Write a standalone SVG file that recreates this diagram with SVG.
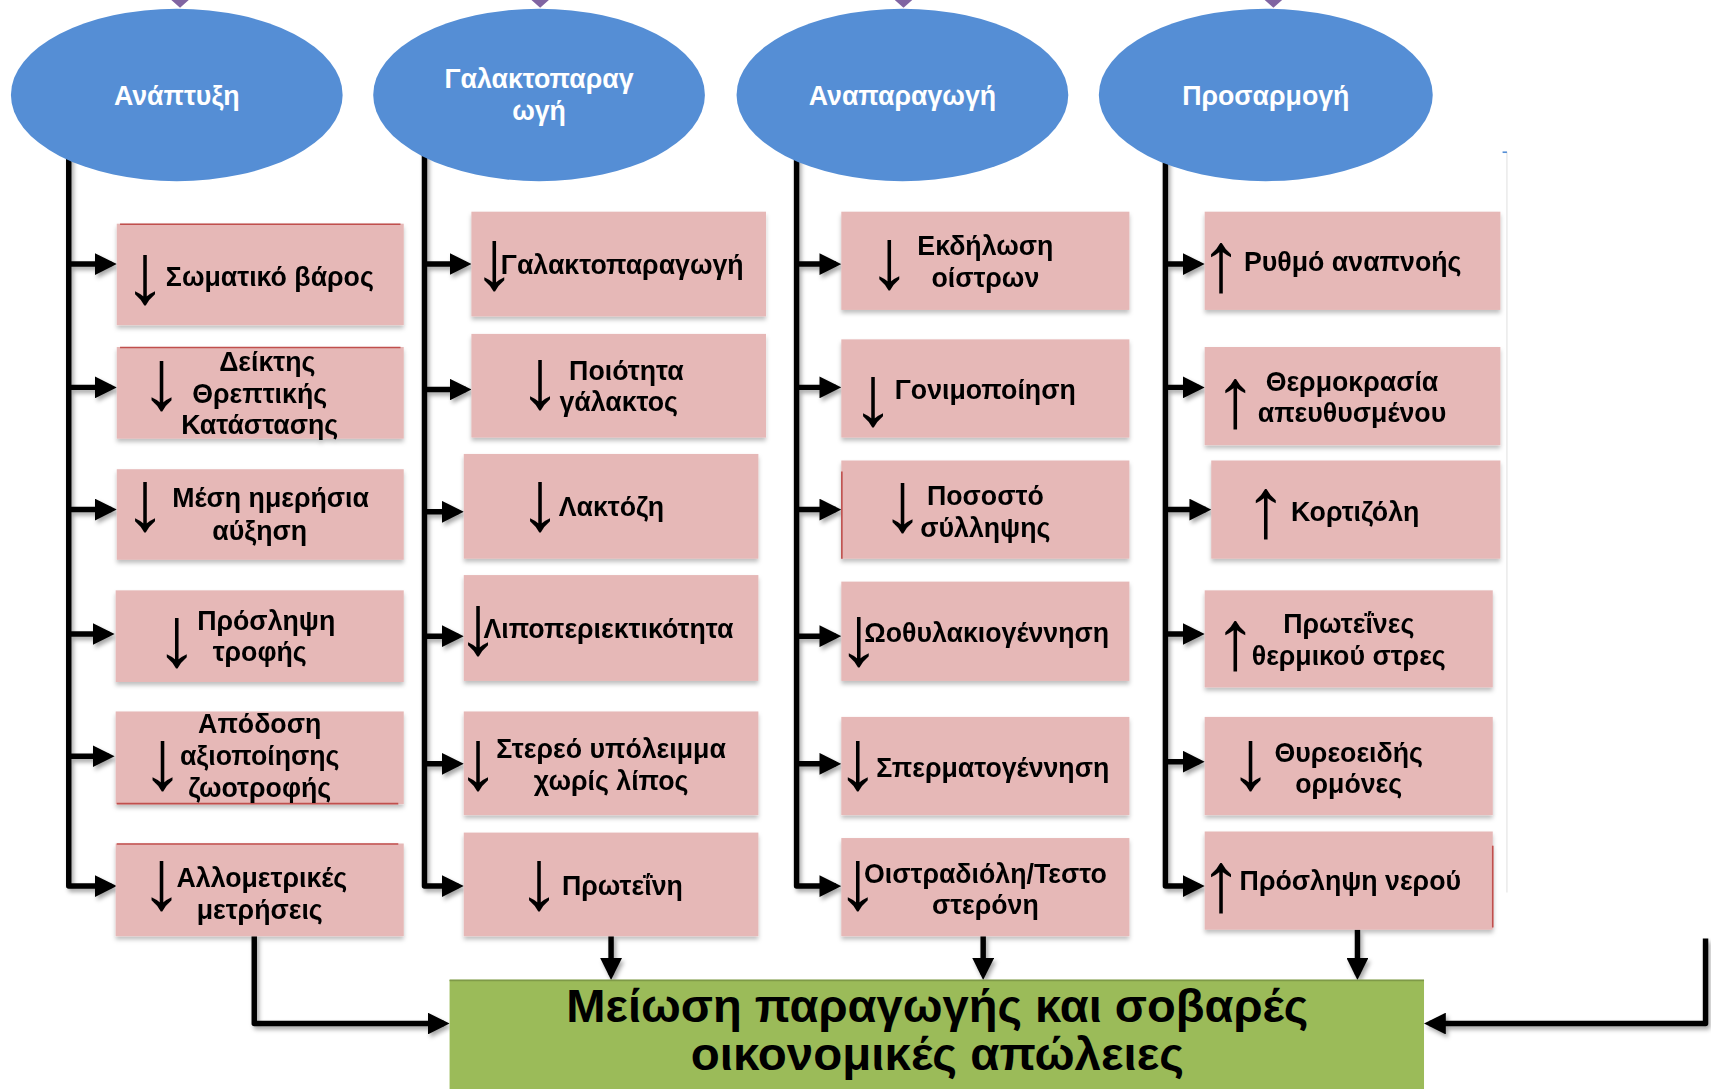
<svg xmlns="http://www.w3.org/2000/svg" width="1711" height="1089" viewBox="0 0 1711 1089">
<defs>
<style>
.ell{fill:#558ed5}
.box{fill:#e6b8b7}
.grn{fill:#9bbb59}
.t{font-family:"Liberation Sans",Arial,sans-serif;font-weight:bold;font-size:24.5px;fill:#000}
.m{text-anchor:middle}
.w{fill:#fff}
.ar{font-family:"Liberation Sans","DejaVu Sans",sans-serif;font-weight:bold;font-size:78px;fill:#000;text-anchor:middle;dominant-baseline:central}
.c{fill:none;stroke:#000;stroke-width:5;stroke-linejoin:round;stroke-linecap:butt}
.red{stroke:#c0504d;stroke-width:1.5;fill:none}
.big{font-family:"Liberation Sans",Arial,sans-serif;font-weight:bold;font-size:42px;fill:#000;text-anchor:middle}
</style>
<filter id="sh" x="-10%" y="-10%" width="120%" height="130%">
<feDropShadow dx="0" dy="3" stdDeviation="2" flood-color="#000" flood-opacity="0.25"/>
</filter>
<filter id="csh" x="-10%" y="-10%" width="120%" height="120%">
<feDropShadow dx="2" dy="3" stdDeviation="2" flood-color="#000" flood-opacity="0.35"/>
</filter>
<marker id="ah" markerUnits="userSpaceOnUse" markerWidth="20" markerHeight="20" viewBox="0 0 20 20" refX="15" refY="10" orient="auto">
<path d="M0,0 L20,10 L0,20 z" fill="#000"/>
</marker>
</defs>
<rect width="1711" height="1089" fill="#fff"/>
<g transform="scale(1.0912)">
<g id="top-arrows" fill="#8064a2">
<polygon points="157,0 173,0 165,7"/>
<polygon points="487,0 503,0 495,7"/>
<polygon points="820,0 836,0 828,7"/>
<polygon points="1159,0 1175,0 1167,7"/>
</g>
<line x1="1381" y1="139" x2="1381" y2="818" stroke="#e2e2e2" stroke-width="1"/>
<line x1="1377" y1="139.5" x2="1381" y2="139.5" stroke="#558ed5" stroke-width="1.5"/>
<g id="connectors" class="c" filter="url(#csh)">
<path d="M63,130 V812 H102" marker-end="url(#ah)"/>
<path d="M63,242 H102" marker-end="url(#ah)"/>
<path d="M63,355 H102" marker-end="url(#ah)"/>
<path d="M63,467 H102" marker-end="url(#ah)"/>
<path d="M63,581 H100" marker-end="url(#ah)"/>
<path d="M63,693 H100" marker-end="url(#ah)"/>
<path d="M389,130 V812 H420" marker-end="url(#ah)"/>
<path d="M389,242 H427" marker-end="url(#ah)"/>
<path d="M389,357 H427" marker-end="url(#ah)"/>
<path d="M389,469 H420" marker-end="url(#ah)"/>
<path d="M389,583 H420" marker-end="url(#ah)"/>
<path d="M389,700 H420" marker-end="url(#ah)"/>
<path d="M730,130 V812 H766" marker-end="url(#ah)"/>
<path d="M730,242 H766" marker-end="url(#ah)"/>
<path d="M730,355 H766" marker-end="url(#ah)"/>
<path d="M730,467 H766" marker-end="url(#ah)"/>
<path d="M730,583 H766" marker-end="url(#ah)"/>
<path d="M730,700 H766" marker-end="url(#ah)"/>
<path d="M1068,130 V812 H1099" marker-end="url(#ah)"/>
<path d="M1068,242 H1099" marker-end="url(#ah)"/>
<path d="M1068,355 H1099" marker-end="url(#ah)"/>
<path d="M1068,467 H1105" marker-end="url(#ah)"/>
<path d="M1068,581 H1099" marker-end="url(#ah)"/>
<path d="M1068,698 H1099" marker-end="url(#ah)"/>
<path d="M233,858 V938 H407" marker-end="url(#ah)"/>
<path d="M560,858 V893" marker-end="url(#ah)"/>
<path d="M901,858 V893" marker-end="url(#ah)"/>
<path d="M1244,852 V893" marker-end="url(#ah)"/>
<path d="M1563,860 V938 H1310" marker-end="url(#ah)"/>
</g>
<g id="cat-anaptyxi"><ellipse class="ell" cx="162" cy="87" rx="152" ry="79"/><text class="t w m" x="162" y="96">Ανάπτυξη</text></g>
<g id="cat-galaktoparagogi"><ellipse class="ell" cx="494" cy="87" rx="152" ry="79"/><text class="t w m" x="494" y="81">Γαλακτοπαραγ</text><text class="t w m" x="494" y="110">ωγή</text></g>
<g id="cat-anaparagogi"><ellipse class="ell" cx="827" cy="87" rx="152" ry="79"/><text class="t w m" x="827" y="96">Αναπαραγωγή</text></g>
<g id="cat-prosarmogi"><ellipse class="ell" cx="1160" cy="87" rx="153" ry="79"/><text class="t w m" x="1160" y="96">Προσαρμογή</text></g>

<g id="n-somatiko" filter="url(#sh)"><rect class="box" x="107" y="205" width="263" height="93"/><line class="red" x1="110" y1="205.5" x2="367" y2="205.5"/><text class="ar" x="133" y="251">↓</text><text class="t" x="152" y="262">Σωματικό βάρος</text></g>
<g id="n-deiktis" filter="url(#sh)"><rect class="box" x="107" y="318" width="263" height="84"/><line class="red" x1="110" y1="318.5" x2="367" y2="318.5"/><text class="ar" x="148" y="348">↓</text><text class="t m" x="245" y="340">Δείκτης</text><text class="t m" x="238" y="369">Θρεπτικής</text><text class="t m" x="238" y="398">Κατάστασης</text></g>
<g id="n-mesi" filter="url(#sh)"><rect class="box" x="107" y="430" width="263" height="83"/><text class="ar" x="133" y="459">↓</text><text class="t m" x="248" y="465">Μέση ημερήσια</text><text class="t m" x="238" y="495">αύξηση</text></g>
<g id="n-proslipsi-trofis" filter="url(#sh)"><rect class="box" x="106" y="541" width="264" height="84"/><text class="ar" x="162" y="583">↓</text><text class="t m" x="244" y="577">Πρόσληψη</text><text class="t m" x="238" y="606">τροφής</text></g>
<g id="n-apodosi" filter="url(#sh)"><rect class="box" x="106" y="652" width="264" height="85"/><line class="red" x1="107" y1="736.5" x2="365" y2="736.5"/><text class="ar" x="149" y="696">↓</text><text class="t m" x="238" y="672">Απόδοση</text><text class="t m" x="238" y="701">αξιοποίησης</text><text class="t m" x="238" y="730">ζωοτροφής</text></g>
<g id="n-allometrikes" filter="url(#sh)"><rect class="box" x="106" y="773" width="264" height="85"/><line class="red" x1="107" y1="773.5" x2="365" y2="773.5"/><text class="ar" x="148" y="806">↓</text><text class="t m" x="240" y="813">Αλλομετρικές</text><text class="t m" x="238" y="842">μετρήσεις</text></g>

<g id="n-galaktoparagogi" filter="url(#sh)"><rect class="box" x="432" y="194" width="270" height="96"/><text class="ar" x="453" y="238">↓</text><text class="t" x="459" y="251">Γαλακτοπαραγωγή</text></g>
<g id="n-poiotita" filter="url(#sh)"><rect class="box" x="432" y="306" width="270" height="95"/><text class="ar" x="495" y="347">↓</text><text class="t m" x="574" y="348">Ποιότητα</text><text class="t m" x="567" y="377">γάλακτος</text></g>
<g id="n-laktozi" filter="url(#sh)"><rect class="box" x="425" y="416" width="270" height="96"/><text class="ar" x="495" y="459">↓</text><text class="t" x="512" y="473">Λακτόζη</text></g>
<g id="n-lipoperiektikotita" filter="url(#sh)"><rect class="box" x="425" y="527" width="270" height="97"/><text class="ar" x="438" y="572">↓</text><text class="t" x="443" y="585">Λιποπεριεκτικότητα</text></g>
<g id="n-stereo" filter="url(#sh)"><rect class="box" x="425" y="652" width="270" height="95"/><text class="ar" x="438" y="696">↓</text><text class="t m" x="560" y="695">Στερεό υπόλειμμα</text><text class="t m" x="560" y="724">χωρίς λίπος</text></g>
<g id="n-proteini" filter="url(#sh)"><rect class="box" x="425" y="763" width="270" height="95"/><text class="ar" x="494" y="806">↓</text><text class="t" x="515" y="820">Πρωτεΐνη</text></g>

<g id="n-ekdilosi" filter="url(#sh)"><rect class="box" x="771" y="194" width="264" height="90"/><text class="ar" x="815" y="237">↓</text><text class="t m" x="903" y="234">Εκδήλωση</text><text class="t m" x="903" y="263">οίστρων</text></g>
<g id="n-gonimopoiisi" filter="url(#sh)"><rect class="box" x="771" y="311" width="264" height="90"/><text class="ar" x="800" y="362">↓</text><text class="t" x="820" y="366">Γονιμοποίηση</text></g>
<g id="n-pososto" filter="url(#sh)"><rect class="box" x="771" y="422" width="264" height="90"/><line class="red" x1="771.5" y1="432" x2="771.5" y2="512"/><text class="ar" x="827" y="460">↓</text><text class="t m" x="903" y="463">Ποσοστό</text><text class="t m" x="903" y="492">σύλληψης</text></g>
<g id="n-oothylakio" filter="url(#sh)"><rect class="box" x="771" y="533" width="264" height="91"/><text class="ar" x="787" y="582">↓</text><text class="t" x="792" y="588">Ωοθυλακιογέννηση</text></g>
<g id="n-spermato" filter="url(#sh)"><rect class="box" x="771" y="657" width="264" height="90"/><text class="ar" x="786" y="696">↓</text><text class="t" x="803" y="712">Σπερματογέννηση</text></g>
<g id="n-oistradioli" filter="url(#sh)"><rect class="box" x="771" y="768" width="264" height="90"/><text class="ar" x="786" y="806">↓</text><text class="t m" x="903" y="809">Οιστραδιόλη/Τεστο</text><text class="t m" x="903" y="838">στερόνη</text></g>

<g id="n-rythmos" filter="url(#sh)"><rect class="box" x="1104" y="194" width="271" height="90"/><text class="ar" x="1119" y="240">↑</text><text class="t" x="1140" y="248">Ρυθμό αναπνοής</text></g>
<g id="n-thermokrasia" filter="url(#sh)"><rect class="box" x="1104" y="318" width="271" height="90"/><text class="ar" x="1132" y="364">↑</text><text class="t m" x="1239" y="358">Θερμοκρασία</text><text class="t m" x="1239" y="387">απευθυσμένου</text></g>
<g id="n-kortizoli" filter="url(#sh)"><rect class="box" x="1110" y="422" width="265" height="90"/><text class="ar" x="1160" y="465">↑</text><text class="t" x="1183" y="477">Κορτιζόλη</text></g>
<g id="n-proteines" filter="url(#sh)"><rect class="box" x="1104" y="541" width="264" height="89"/><text class="ar" x="1132" y="586">↑</text><text class="t m" x="1236" y="580">Πρωτεΐνες</text><text class="t m" x="1236" y="609">θερμικού στρες</text></g>
<g id="n-thyreoeidis" filter="url(#sh)"><rect class="box" x="1104" y="657" width="264" height="90"/><text class="ar" x="1146" y="696">↓</text><text class="t m" x="1236" y="698">Θυρεοειδής</text><text class="t m" x="1236" y="727">ορμόνες</text></g>
<g id="n-proslipsi-nerou" filter="url(#sh)"><rect class="box" x="1104" y="762" width="264" height="90"/><line class="red" x1="1368" y1="775" x2="1368" y2="850"/><text class="ar" x="1119" y="808">↑</text><text class="t" x="1136" y="816">Πρόσληψη νερού</text></g>

<g id="n-result"><rect class="grn" x="412" y="898" width="893" height="105"/><line x1="412" y1="898.5" x2="1305" y2="898.5" stroke="#7f9a48" stroke-width="1.5"/><text class="big" x="859" y="937" textLength="680" lengthAdjust="spacingAndGlyphs">Μείωση παραγωγής και σοβαρές</text><text class="big" x="859" y="981" textLength="452" lengthAdjust="spacingAndGlyphs">οικονομικές απώλειες</text></g>
</g>
</svg>
